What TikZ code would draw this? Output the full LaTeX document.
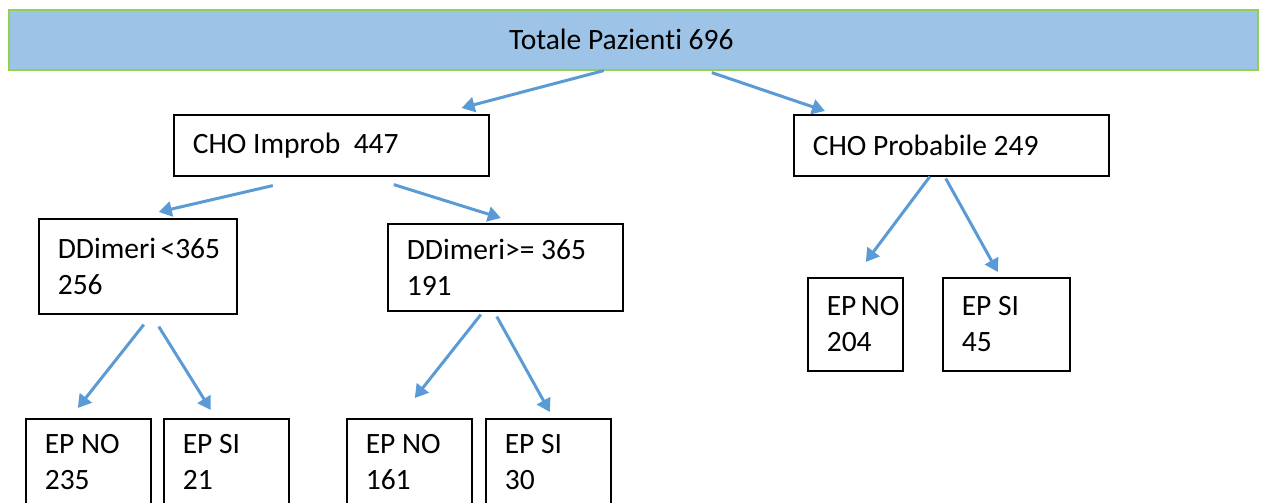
\documentclass[tikz,border=0pt]{standalone}
\usepackage{fontspec}
\setmainfont{Carlito}[Ligatures={NoCommon,NoRare}]
\usetikzlibrary{arrows.meta}
\definecolor{boxblue}{HTML}{9DC3E6}
\definecolor{boxgreen}{HTML}{92D050}
\definecolor{arrblue}{HTML}{5B9BD5}

\begin{document}
\begin{tikzpicture}[x=1pt, y=-1pt, font=\fontsize{29.5}{36}\selectfont,
    box/.style={draw, line width=1.6pt, anchor=north west, inner xsep=19pt, align=flush left},
    arr/.style={arrblue, line width=3pt, -{Triangle[length=13pt, width=15pt]}}]
  \useasboundingbox (0,0) rectangle (1264,503);
  \node[draw=boxgreen, fill=boxblue, line width=1.6pt, anchor=north west,
        minimum width=1249pt, minimum height=60pt] (tot) at (8,9) {\hspace*{-24pt}Totale Pazien\kern0ptti 696};
  \node[box, minimum width=315pt, minimum height=61pt, text width=277pt] (impr) at (173,114) {CHO Improb\ \ 447};
  \node[box, minimum width=315pt, minimum height=61pt, text width=277pt] (prob) at (793,114) {CHO Probabile 249};
  \node[box, minimum width=198pt, minimum height=95pt, text width=160pt] (ddlo) at (38,218) {DDimeri~<365\\256};
  \node[box, minimum width=235pt, minimum height=87pt, text width=197pt] (ddhi) at (387,223) {DDimeri>=~365\\191};
  \node[box, minimum width=95pt, minimum height=93pt, text width=57pt] (no204) at (807,277) {EP~NO\\204};
  \node[box, minimum width=127pt, minimum height=93pt, text width=89pt] (si45) at (942,277) {EP SI\\45};
  \foreach \n/\x/\t in {no235/25/EP~NO\\235, si21/163/EP SI\\21, no161/346/EP~NO\\161, si30/485/EP SI\\30}
    \node[box, minimum width=125pt, minimum height=87pt, text width=87pt] (\n) at (\x,418) {\t};
  % arrows
  \draw[arr] ([xshift=-29.5pt]tot.south) -- ([xshift=-28pt, yshift=6pt]impr.north east);
  \draw[arr] ([xshift=78.5pt, yshift=-2pt]tot.south) -- ([xshift=32pt, yshift=3pt]prob.north west);
  \draw[arr] ([xshift=-58.5pt, yshift=-9pt]impr.south) -- ([xshift=21pt, yshift=6pt]ddlo.north);
  \draw[arr] ([xshift=62.5pt, yshift=-8pt]impr.south) -- ([xshift=-4.5pt, yshift=5pt]ddhi.north);
  \draw[arr] ([xshift=6pt, yshift=-10pt]ddlo.south) -- ([xshift=-10.5pt, yshift=10pt]no235.north);
  \draw[arr] ([xshift=21pt, yshift=-12pt]ddlo.south) -- ([xshift=-15.5pt, yshift=8pt]si21.north);
  \draw[arr] ([xshift=-24.5pt, yshift=-3pt]ddhi.south) -- ([xshift=5.5pt, yshift=20pt]no161.north);
  \draw[arr] ([xshift=-8.5pt, yshift=-5pt]ddhi.south) -- ([xshift=1.5pt, yshift=6pt]si30.north);
  \draw[arr] ([xshift=-21.5pt]prob.south) -- ([xshift=10.5pt, yshift=15pt]no204.north);
  \draw[arr] ([xshift=-5.5pt, yshift=-2pt]prob.south) -- ([xshift=-8.5pt, yshift=5pt]si45.north);
\end{tikzpicture}
\end{document}
